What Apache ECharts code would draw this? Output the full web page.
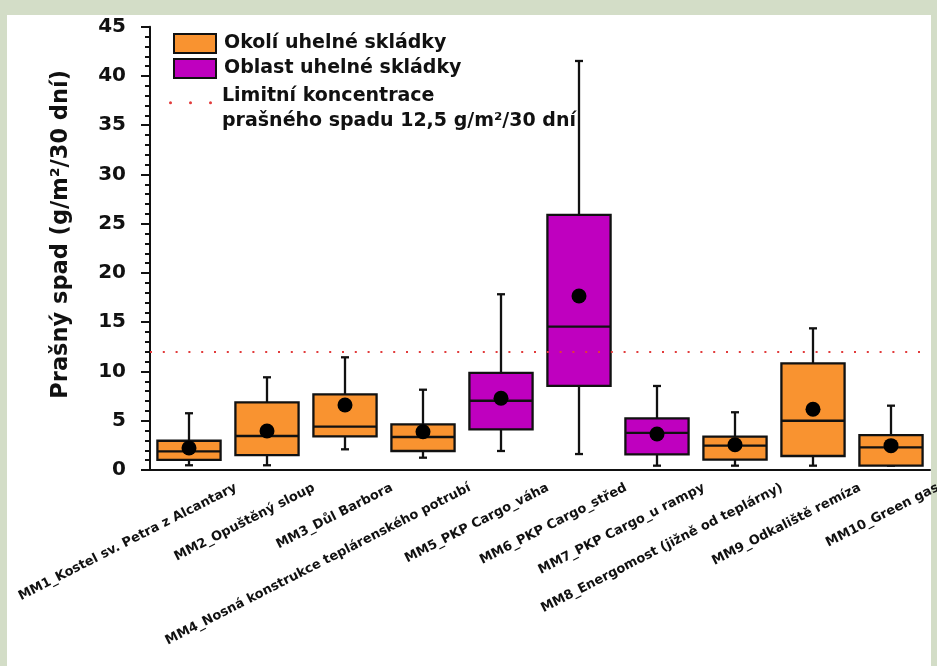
<!DOCTYPE html>
<html><head><meta charset="utf-8">
<script src="https://cdn.jsdelivr.net/npm/echarts@6/dist/echarts.min.js"></script>
<style>html,body{margin:0;padding:0;background:#d3ddc7;}#c{width:937px;height:666px;}</style>
</head><body><div id="c"></div>
<script>
const categories = ["MM1_Kostel sv. Petra z Alcantary","MM2_Opuštěný sloup","MM3_Důl Barbora","MM4_Nosná konstrukce teplárenského potrubí","MM5_PKP Cargo_váha","MM6_PKP Cargo_střed","MM7_PKP Cargo_u rampy","MM8_Energomost (jižně od teplárny)","MM9_Odkaliště remíza","MM10_Green gas"];
const lowWhisker = [0.48, 0.48, 2.10, 1.25, 1.93, 1.62, 0.44, 0.44, 0.44, 0.44];
const q1 = [1.02, 1.52, 3.42, 1.93, 4.13, 8.53, 1.59, 1.05, 1.42, 0.44];
const median = [1.90, 3.45, 4.40, 3.35, 7.03, 14.55, 3.76, 2.47, 5.00, 2.30];
const q3 = [2.97, 6.87, 7.68, 4.64, 9.85, 25.89, 5.25, 3.38, 10.83, 3.55];
const highWhisker = [5.76, 9.41, 11.44, 8.15, 17.84, 41.52, 8.53, 5.86, 14.38, 6.53];
const means = [2.23, 3.96, 6.60, 3.89, 7.28, 17.66, 3.65, 2.57, 6.16, 2.47];
const groups = ["okoli","okoli","okoli","okoli","oblast","oblast","oblast","okoli","okoli","okoli"];
const limitValue = 12;
const yTicks = {min: 0, max: 45, interval: 5};
const nameOkoli = "Okolí uhelné skládky";
const nameOblast = "Oblast uhelné skládky";
const nameLimit = "Limitní koncentrace\nprašného spadu 12,5 g/m²/30 dní";

const ORANGE = "#f99330", PURPLE = "#bf00bf", RED = "#e23b3b";
const FONT = "DejaVu Sans";

function boxData(g) {
  const out = [];
  categories.forEach((c, i) => {
    if (groups[i] === g) out.push([i, lowWhisker[i], q1[i], median[i], q3[i], highWhisker[i]]);
  });
  return out;
}
function renderBox(color) {
  return function (params, api) {
    const x = api.value(0);
    const pLow = api.coord([x, api.value(1)]);
    const pQ1 = api.coord([x, api.value(2)]);
    const pMed = api.coord([x, api.value(3)]);
    const pQ3 = api.coord([x, api.value(4)]);
    const pHigh = api.coord([x, api.value(5)]);
    const bw = api.size([1, 0])[0] * 0.81;
    const cx = pMed[0];
    const cap = 4;
    const ls = {stroke: "#111", lineWidth: 2.3};
    return {
      type: "group",
      children: [
        {type: "line", shape: {x1: cx, y1: pQ3[1], x2: cx, y2: pHigh[1]}, style: ls},
        {type: "line", shape: {x1: cx - cap, y1: pHigh[1], x2: cx + cap, y2: pHigh[1]}, style: ls},
        {type: "line", shape: {x1: cx, y1: pQ1[1], x2: cx, y2: pLow[1]}, style: ls},
        {type: "line", shape: {x1: cx - cap, y1: pLow[1], x2: cx + cap, y2: pLow[1]}, style: ls},
        {type: "rect", shape: {x: cx - bw / 2, y: pQ3[1], width: bw, height: pQ1[1] - pQ3[1]},
         style: {fill: color, stroke: "#111", lineWidth: 2.3}},
        {type: "line", shape: {x1: cx - bw / 2, y1: pMed[1], x2: cx + bw / 2, y2: pMed[1]}, style: ls}
      ]
    };
  };
}

const chart = echarts.init(document.getElementById("c"), null, {renderer: "canvas"});
const dotsPath = "path://M0,1.5a1.5,1.5 0 1,0 3,0a1.5,1.5 0 1,0 -3,0Z M20,1.5a1.5,1.5 0 1,0 3,0a1.5,1.5 0 1,0 -3,0Z M40,1.5a1.5,1.5 0 1,0 3,0a1.5,1.5 0 1,0 -3,0Z M1.5,15.5a0.02,0.02 0 1,0 0.04,0a0.02,0.02 0 1,0 -0.04,0Z";
const labelDx = 47;

chart.setOption({
  backgroundColor: "#d3ddc7",
  animation: false,
  textStyle: {fontFamily: FONT},
  graphic: [{type: "rect", z: -10, silent: true, shape: {x: 7, y: 15, width: 924, height: 660}, style: {fill: "#ffffff"}}],
  legend: [
    {
      orient: "vertical", left: 173, top: 33, padding: 0, itemWidth: 42, itemHeight: 19, itemGap: 4,
      textStyle: {fontFamily: FONT, fontWeight: "bold", fontSize: 19, color: "#111", padding: [0, 0, 0, 3]},
      data: [
        {name: nameOkoli, icon: "rect", itemStyle: {color: ORANGE, borderColor: "#111", borderWidth: 2}},
        {name: nameOblast, icon: "rect", itemStyle: {color: PURPLE, borderColor: "#111", borderWidth: 2}}
      ]
    },
    {
      orient: "vertical", left: 169, top: 84, padding: 0, itemWidth: 43, itemHeight: 15.54,
      textStyle: {fontFamily: FONT, fontWeight: "bold", fontSize: 19, color: "#111", lineHeight: 25, padding: [0, 0, 0, 5]},
      data: [{name: nameLimit, icon: dotsPath, itemStyle: {color: RED}}]
    }
  ],
  grid: [
    {left: 150, right: 7, top: 26.7, bottom: 196, outerBoundsMode: "none", containLabel: false},
    {left: 150 + labelDx, right: 7 - labelDx, top: 26.7, bottom: 196, outerBoundsMode: "none", containLabel: false}
  ],
  xAxis: [
    {
      type: "category", gridIndex: 0, data: categories, boundaryGap: true,
      axisLine: {lineStyle: {color: "#111", width: 2}},
      axisTick: {alignWithLabel: true, length: 9, lineStyle: {color: "#111", width: 2}},
      axisLabel: {show: false}, splitLine: {show: false}
    },
    {
      type: "category", gridIndex: 1, data: categories, boundaryGap: true,
      axisLine: {show: false}, axisTick: {show: false}, splitLine: {show: false},
      axisLabel: {interval: 0, rotate: 27, margin: 17, fontFamily: FONT, fontWeight: "bold", fontSize: 13, color: "#111"}
    }
  ],
  yAxis: [
    {
      type: "value", gridIndex: 0, min: yTicks.min, max: yTicks.max, interval: yTicks.interval,
      name: "Prašný spad (g/m²/30 dní)", nameLocation: "middle", nameGap: 77,
      nameTextStyle: {fontFamily: FONT, fontWeight: "bold", fontSize: 22.5, color: "#111", padding: [0, 0, 0, 28]},
      axisLine: {show: true, lineStyle: {color: "#111", width: 2}},
      axisTick: {show: true, length: 9, lineStyle: {color: "#111", width: 2}},
      minorTick: {show: true, splitNumber: 5, length: 5, lineStyle: {color: "#111", width: 2}},
      splitLine: {show: false},
      axisLabel: {margin: 24, fontFamily: FONT, fontWeight: "bold", fontSize: 20, color: "#111"}
    },
    {type: "value", gridIndex: 1, min: yTicks.min, max: yTicks.max, show: false}
  ],
  series: [
    {name: nameOkoli, type: "custom", xAxisIndex: 0, yAxisIndex: 0, renderItem: renderBox(ORANGE),
     encode: {x: 0, y: [1, 2, 3, 4, 5]}, data: boxData("okoli"), z: 2, itemStyle: {color: ORANGE}},
    {name: nameOblast, type: "custom", xAxisIndex: 0, yAxisIndex: 0, renderItem: renderBox(PURPLE),
     encode: {x: 0, y: [1, 2, 3, 4, 5]}, data: boxData("oblast"), z: 2, itemStyle: {color: PURPLE}},
    {name: "mean", type: "scatter", xAxisIndex: 0, yAxisIndex: 0, symbol: "circle", symbolSize: 15,
     itemStyle: {color: "#000", opacity: 1}, z: 5, data: means.map((m, i) => [i, m])},
    {name: nameLimit, type: "line", xAxisIndex: 0, yAxisIndex: 0, data: [], z: 6, itemStyle: {color: RED},
     markLine: {silent: true, symbol: "none", label: {show: false},
       lineStyle: {color: RED, width: 2.2, type: [2, 10.8]},
       data: [{yAxis: limitValue}]}}
  ]
});
</script></body></html>
